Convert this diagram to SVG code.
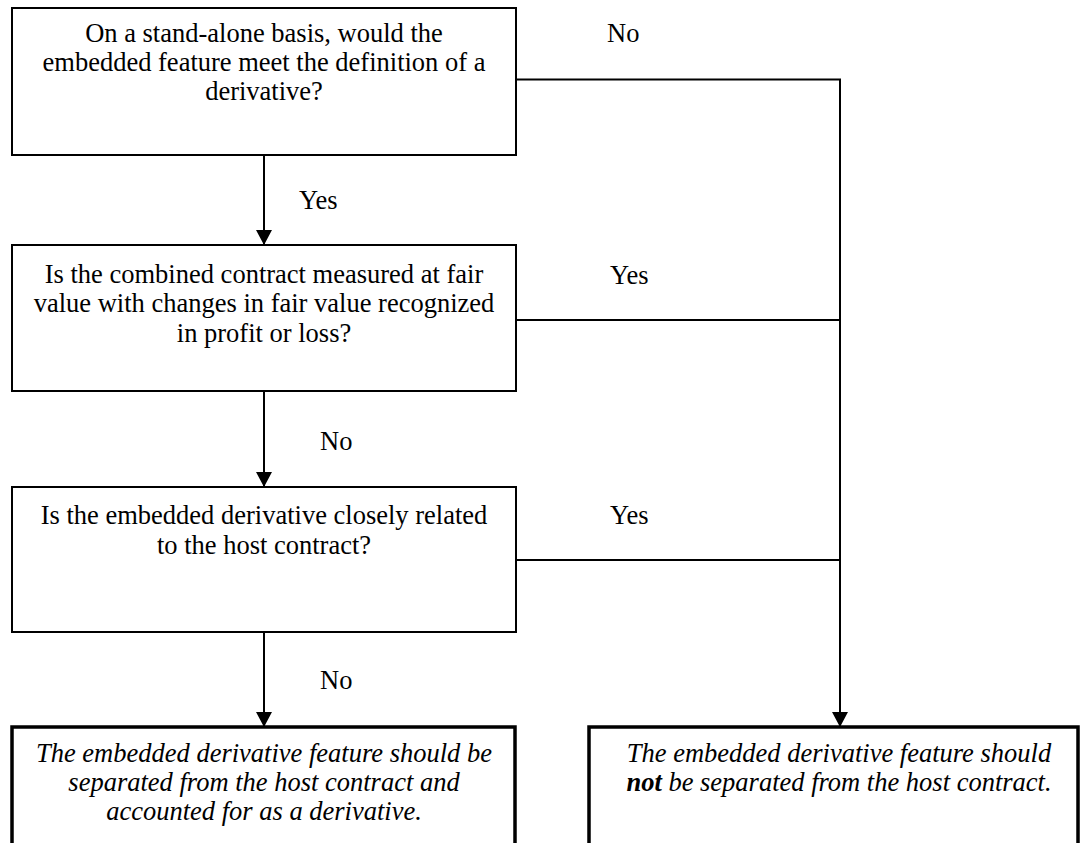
<svg xmlns="http://www.w3.org/2000/svg" width="1080" height="843" viewBox="0 0 1080 843">
<style>
.box{fill:#fff;stroke:#000;stroke-width:2}
.thick{fill:#fff;stroke:#000;stroke-width:3.5}
.t{font-family:Liberation Serif, serif;font-size:26.5px;fill:#000;text-anchor:middle}
.i{font-style:italic}
.lbl{font-family:Liberation Serif, serif;font-size:26.5px;fill:#000}
.c{fill:none;stroke:#000;stroke-width:2}
</style>
<defs>
<marker id="ah" markerWidth="15" markerHeight="16" refX="15" refY="8" orient="auto" markerUnits="userSpaceOnUse">
<path d="M0,0 L15,8 L0,16 Z" fill="#000"/>
</marker>
</defs>
<g id="connectors">
<path class="c" d="M516,79.5 H840 V727" marker-end="url(#ah)"/>
<path class="c" d="M516,320 H840"/>
<path class="c" d="M516,560 H840"/>
<path class="c" d="M264,155 V245" marker-end="url(#ah)"/>
<path class="c" d="M264,391 V487" marker-end="url(#ah)"/>
<path class="c" d="M264,632 V727" marker-end="url(#ah)"/>
<text class="lbl" x="607" y="42">No</text>
<text class="lbl" x="299" y="209">Yes</text>
<text class="lbl" x="610" y="284">Yes</text>
<text class="lbl" x="320" y="450">No</text>
<text class="lbl" x="610" y="524">Yes</text>
<text class="lbl" x="320" y="689">No</text>
</g>
<g id="q1">
<rect class="box" x="12" y="8" width="504" height="147"/>
<text class="t" x="264" y="42">On a stand-alone basis, would the</text>
<text class="t" x="264" y="71">embedded feature meet the definition of a</text>
<text class="t" x="264" y="100">derivative?</text>
</g>
<g id="q2">
<rect class="box" x="12" y="245" width="504" height="146"/>
<text class="t" x="264" y="283">Is the combined contract measured at fair</text>
<text class="t" x="264" y="312">value with changes in fair value recognized</text>
<text class="t" x="264" y="342">in profit or loss?</text>
</g>
<g id="q3">
<rect class="box" x="12" y="487" width="504" height="145"/>
<text class="t" x="264" y="524">Is the embedded derivative closely related</text>
<text class="t" x="264" y="554">to the host contract?</text>
</g>
<g id="r1">
<rect class="thick" x="12" y="727" width="503" height="140"/>
<text class="t i" x="264" y="762">The embedded derivative feature should be</text>
<text class="t i" x="264" y="791">separated from the host contract and</text>
<text class="t i" x="264" y="820">accounted for as a derivative.</text>
</g>
<g id="r2">
<rect class="thick" x="589" y="727" width="489" height="140"/>
<text class="t i" x="839" y="762">The embedded derivative feature should</text>
<text class="t i" x="839" y="791"><tspan font-weight="bold">not</tspan> be separated from the host contract.</text>
</g>
</svg>
